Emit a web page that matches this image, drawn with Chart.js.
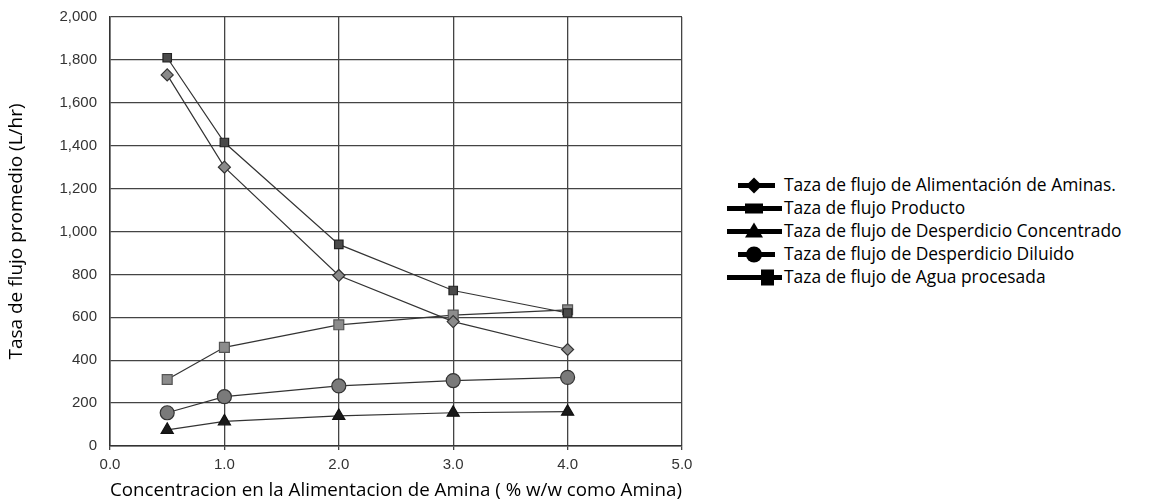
<!DOCTYPE html>
<html>
<head>
<meta charset="utf-8">
<script src="https://cdn.jsdelivr.net/npm/chart.js@4"></script>
<style>
  html, body { margin: 0; padding: 0; background: #fff; }
  #wrap { position: relative; width: 1159px; height: 502px; }
  #box { position: absolute; left: 0; top: 0; width: 700px; height: 502px; }
  #legend { position: absolute; left: 724px; top: 174px; font-family: "Open Sans", sans-serif; font-size: 17.4px; color: #000; }
  .row { position: relative; height: 23px; line-height: 23px; white-space: nowrap; }
  .row svg { position: absolute; top: 0; }
  .row span { position: absolute; left: 60px; top: -1px; }
</style>
</head>
<body>
<div id="wrap">
  <div id="box"><canvas id="chart"></canvas></div>
  <div id="legend"></div>
</div>
<script>
// Concentration of amine in feed (% w/w)
const concentracion = [0.5, 1.0, 2.0, 3.0, 4.0];

// Average flow rates (L/hr)
const alimentacion = [1730, 1300, 795, 580, 450];
const producto     = [1810, 1415, 940, 725, 620];
const concentrado  = [75, 115, 140, 155, 160];
const diluido      = [155, 230, 280, 305, 320];
const agua         = [310, 460, 565, 610, 635];

const etiquetas = [
    "Taza de flujo de Alimentación de Aminas.",
    "Taza de flujo Producto",
    "Taza de flujo de Desperdicio Concentrado",
    "Taza de flujo de Desperdicio Diluido",
    "Taza de flujo de Agua procesada"
];

function toPoints(values) {
    return values.map(function(v, i) { return { x: concentracion[i], y: v }; });
}

function serie(label, values, style, radius, fill, border) {
    return {
        label: label,
        data: toPoints(values),
        borderColor: "#333",
        borderWidth: 1.2,
        pointStyle: style,
        pointRadius: radius,
        pointBackgroundColor: fill,
        pointBorderColor: border,
        pointBorderWidth: 1.2,
        tension: 0
    };
}

const ctx = document.getElementById("chart").getContext("2d");
new Chart(ctx, {
    type: "line",
    data: {
        datasets: [
            serie(etiquetas[0], alimentacion, "rectRot", 6, "#8a8a8a", "#333"),
            serie(etiquetas[1], producto, "rect", 6, "#4a4a4a", "#222"),
            serie(etiquetas[2], concentrado, "triangle", 7, "#1a1a1a", "#111"),
            serie(etiquetas[3], diluido, "circle", 7, "#7a7a7a", "#333"),
            serie(etiquetas[4], agua, "rect", 7, "#8c8c8c", "#555")
        ]
    },
    options: {
        responsive: true,
        maintainAspectRatio: false,
        animation: false,
        layout: { padding: { top: 17, right: 18, left: 5, bottom: 0 } },
        plugins: {
            legend: { display: false },
            tooltip: { enabled: false }
        },
        scales: {
            x: {
                type: "linear",
                min: 0,
                max: 5,
                ticks: {
                    stepSize: 1,
                    color: "#333",
                    font: { family: "Liberation Sans", size: 15 },
                    padding: 6,
                    callback: function(v) { return v.toFixed(1); }
                },
                grid: { color: "#444", lineWidth: 1.3, tickLength: 4, drawTicks: true },
                border: { color: "#333", width: 1.5 },
                title: {
                    display: true,
                    text: "Concentracion en la Alimentacion de Amina ( % w/w como Amina)",
                    color: "#000",
                    font: { family: "Open Sans", size: 18.8 },
                    padding: { top: 0, bottom: 0 }
                },
                afterFit: function(s) { s.height = 56; }
            },
            y: {
                min: 0,
                max: 2000,
                ticks: {
                    stepSize: 200,
                    color: "#333",
                    font: { family: "Liberation Sans", size: 15 },
                    padding: 13
                },
                grid: { color: "#444", lineWidth: 1.3, tickLength: 0 },
                border: { color: "#333", width: 1.5 },
                title: {
                    display: true,
                    text: "Tasa de flujo promedio (L/hr)",
                    color: "#000",
                    font: { family: "Open Sans", size: 19 },
                    padding: { top: 0, bottom: 18 }
                },
                afterFit: function(s) {
                    s.width = 105;
                    s.paddingTop = 0;
                    s.paddingBottom = 0;
                }
            }
        }
    }
});

// Legend: thick line with the series marker, then the text
const iconos = [
    { l1: 14, l2: 51, m: 'polygon points="30,3 38,11 30,19 22,11"' },
    { l1: 3, l2: 58, m: 'rect x="21" y="6" width="18" height="10"' },
    { l1: 3, l2: 58, m: 'polygon points="30,2 39,17 21,17"' },
    { l1: 14, l2: 51, m: 'circle cx="30" cy="11" r="8"' },
    { l1: 3, l2: 58, m: 'rect x="37" y="3" width="13" height="16"' }
];
const legend = document.getElementById("legend");
etiquetas.forEach(function(t, i) {
    const ic = iconos[i];
    const row = document.createElement("div");
    row.className = "row";
    row.innerHTML = '<svg width="60" height="23" viewBox="0 0 60 22">' +
        '<line x1="' + ic.l1 + '" y1="11" x2="' + ic.l2 + '" y2="11" stroke="#000" stroke-width="5"/>' +
        '<' + ic.m + ' fill="#000"/></svg><span>' + t + '</span>';
    legend.appendChild(row);
});
</script>
</body>
</html>
